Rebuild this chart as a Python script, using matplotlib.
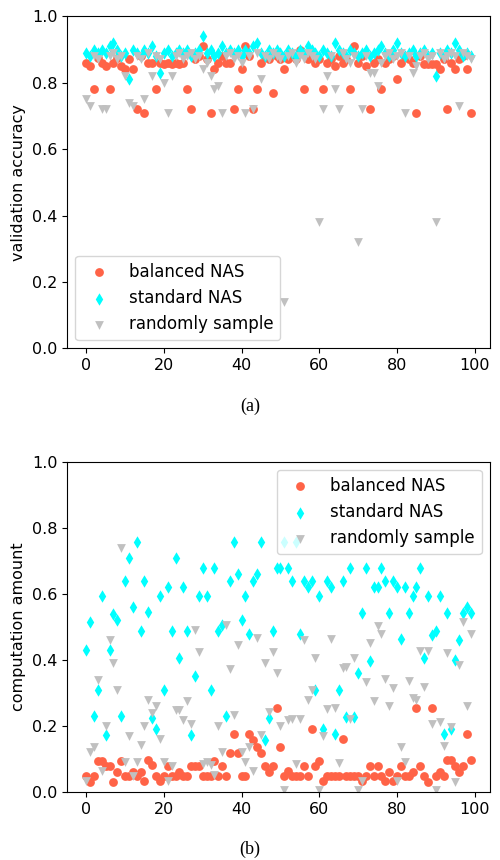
import numpy as np
import matplotlib
matplotlib.use('Agg')
import matplotlib.pyplot as plt

# model index on x axis
idx = np.arange(100)

# (a) validation accuracy
balanced_acc = [0.86, 0.85, 0.78, 0.875, 0.86, 0.85, 0.78, 0.86, 0.875, 0.85,
                0.84, 0.87, 0.84, 0.72, 0.88, 0.71, 0.86, 0.86, 0.78, 0.86,
                0.855, 0.86, 0.855, 0.86, 0.855, 0.86, 0.78, 0.72, 0.87, 0.88,
                0.91, 0.87, 0.71, 0.84, 0.86, 0.88, 0.86, 0.86, 0.72, 0.78,
                0.84, 0.91, 0.88, 0.72, 0.78, 0.86, 0.88, 0.87, 0.77, 0.88,
                0.87, 0.84, 0.87, 0.88, 0.87, 0.90, 0.78, 0.87, 0.88, 0.86,
                0.87, 0.78, 0.86, 0.87, 0.85, 0.88, 0.86, 0.87, 0.78, 0.91,
                0.86, 0.88, 0.85, 0.72, 0.86, 0.87, 0.78, 0.86, 0.87, 0.88,
                0.81, 0.86, 0.88, 0.87, 0.86, 0.71, 0.88, 0.855, 0.855, 0.855,
                0.855, 0.84, 0.87, 0.72, 0.86, 0.84, 0.87, 0.88, 0.84, 0.71]
standard_acc = [0.89, 0.88, 0.90, 0.89, 0.90, 0.89, 0.91, 0.92, 0.90, 0.88,
                0.89, 0.81, 0.90, 0.89, 0.88, 0.90, 0.89, 0.91, 0.88, 0.83,
                0.89, 0.90, 0.88, 0.89, 0.90, 0.89, 0.90, 0.88, 0.89, 0.90,
                0.94, 0.89, 0.90, 0.88, 0.89, 0.91, 0.89, 0.90, 0.89, 0.90,
                0.88, 0.90, 0.89, 0.91, 0.92, 0.89, 0.88, 0.90, 0.89, 0.90,
                0.89, 0.88, 0.90, 0.89, 0.88, 0.90, 0.89, 0.91, 0.90, 0.89,
                0.88, 0.90, 0.89, 0.88, 0.92, 0.90, 0.89, 0.88, 0.90, 0.89,
                0.88, 0.89, 0.90, 0.88, 0.89, 0.90, 0.91, 0.89, 0.88, 0.90,
                0.92, 0.89, 0.88, 0.89, 0.90, 0.88, 0.89, 0.90, 0.88, 0.89,
                0.82, 0.89, 0.88, 0.90, 0.89, 0.92, 0.90, 0.88, 0.89, 0.88]
random_acc = [0.75, 0.73, 0.88, 0.87, 0.72, 0.72, 0.88, 0.89, 0.87, 0.88,
              0.82, 0.74, 0.73, 0.88, 0.87, 0.75, 0.89, 0.82, 0.88, 0.87,
              0.80, 0.71, 0.82, 0.88, 0.89, 0.87, 0.88, 0.89, 0.87, 0.88,
              0.84, 0.86, 0.82, 0.78, 0.79, 0.71, 0.88, 0.89, 0.87, 0.88,
              0.86, 0.71, 0.88, 0.72, 0.89, 0.81, 0.88, 0.87, 0.89, 0.88,
              0.87, 0.14, 0.88, 0.89, 0.86, 0.88, 0.87, 0.89, 0.88, 0.87,
              0.38, 0.72, 0.82, 0.88, 0.78, 0.72, 0.89, 0.87, 0.86, 0.88,
              0.32, 0.72, 0.88, 0.83, 0.83, 0.79, 0.86, 0.88, 0.89, 0.87,
              0.88, 0.89, 0.71, 0.88, 0.83, 0.85, 0.88, 0.89, 0.87, 0.88,
              0.38, 0.89, 0.87, 0.88, 0.89, 0.88, 0.73, 0.89, 0.88, 0.87]

# (b) computation amount
balanced_comp = [0.05, 0.03, 0.05, 0.095, 0.095, 0.08, 0.08, 0.03, 0.06, 0.095,
                 0.05, 0.05, 0.06, 0.05, 0.06, 0.032, 0.097, 0.082, 0.05, 0.032,
                 0.05, 0.08, 0.05, 0.05, 0.06, 0.05, 0.05, 0.08, 0.08, 0.08,
                 0.05, 0.05, 0.05, 0.094, 0.05, 0.08, 0.05, 0.117, 0.175, 0.117,
                 0.05, 0.05, 0.175, 0.157, 0.135, 0.117, 0.08, 0.06, 0.08, 0.255,
                 0.135, 0.05, 0.065, 0.05, 0.05, 0.05, 0.08, 0.05, 0.19, 0.08,
                 0.095, 0.035, 0.05, 0.05, 0.05, 0.05, 0.16, 0.05, 0.05, 0.05,
                 0.05, 0.032, 0.05, 0.08, 0.05, 0.08, 0.05, 0.032, 0.062, 0.032,
                 0.05, 0.08, 0.05, 0.05, 0.06, 0.255, 0.08, 0.05, 0.03, 0.255,
                 0.05, 0.06, 0.05, 0.097, 0.097, 0.08, 0.06, 0.08, 0.175, 0.097]
standard_comp = [0.43, 0.515, 0.23, 0.31, 0.594, 0.174, 0.43, 0.54, 0.52, 0.23,
                 0.64, 0.71, 0.56, 0.757, 0.487, 0.64, 0.545, 0.225, 0.19, 0.594,
                 0.31, 0.62, 0.487, 0.71, 0.407, 0.62, 0.487, 0.174, 0.352, 0.594,
                 0.677, 0.594, 0.31, 0.677, 0.487, 0.505, 0.23, 0.64, 0.757, 0.66,
                 0.522, 0.594, 0.48, 0.64, 0.66, 0.757, 0.157, 0.225, 0.487, 0.677,
                 0.677, 0.757, 0.677, 0.64, 0.757, 0.48, 0.64, 0.62, 0.64, 0.31,
                 0.594, 0.19, 0.64, 0.62, 0.175, 0.31, 0.64, 0.227, 0.677, 0.227,
                 0.36, 0.542, 0.677, 0.397, 0.62, 0.62, 0.677, 0.64, 0.542, 0.64,
                 0.62, 0.462, 0.62, 0.542, 0.594, 0.622, 0.677, 0.407, 0.594, 0.477,
                 0.487, 0.594, 0.175, 0.542, 0.19, 0.40, 0.46, 0.542, 0.56, 0.542]
random_comp = [0.035, 0.12, 0.135, 0.34, 0.065, 0.2, 0.46, 0.39, 0.31, 0.74,
               0.09, 0.17, 0.05, 0.09, 0.142, 0.2, 0.28, 0.24, 0.26, 0.16,
               0.09, 0.035, 0.08, 0.25, 0.25, 0.217, 0.275, 0.205, 0.49, 0.425,
               0.085, 0.09, 0.082, 0.052, 0.2, 0.12, 0.507, 0.374, 0.232, 0.445,
               0.12, 0.09, 0.137, 0.065, 0.467, 0.172, 0.392, 0.242, 0.425, 0.362,
               0.2, 0.007, 0.217, 0.22, 0.085, 0.222, 0.46, 0.28, 0.31, 0.405,
               0.007, 0.17, 0.252, 0.462, 0.255, 0.087, 0.375, 0.38, 0.22, 0.405,
               0.007, 0.032, 0.334, 0.45, 0.277, 0.504, 0.48, 0.342, 0.26, 0.315,
               0.032, 0.135, 0.09, 0.335, 0.285, 0.28, 0.427, 0.317, 0.427, 0.205,
               0.007, 0.212, 0.139, 0.42, 0.197, 0.03, 0.385, 0.515, 0.26, 0.48]

labels = ['balanced NAS', 'standard NAS', 'randomly sample']
colors = ['tomato', 'cyan', 'silver']
markers = ['o', 'd', 'v']

fig = plt.figure(figsize=(5, 8.6), dpi=100)
ax1 = fig.add_axes([0.134, 0.595, 0.846, 0.386])
ax2 = fig.add_axes([0.134, 0.079, 0.846, 0.384])

for ax, series, ylabel, loc in [
        (ax1, [balanced_acc, standard_acc, random_acc], 'validation accuracy', 'lower left'),
        (ax2, [balanced_comp, standard_comp, random_comp], 'computation amount', 'upper right')]:
    for vals, lab, c, m in zip(series, labels, colors, markers):
        ax.scatter(idx, vals, s=40, c=c, marker=m, label=lab, linewidths=0)
    ax.set_ylim(0, 1.0)
    ax.set_yticks(np.arange(0, 1.01, 0.2))
    ax.set_xticks([0, 20, 40, 60, 80, 100])
    ax.tick_params(labelsize=11.5)
    ax.set_ylabel(ylabel, fontsize=11.5)
    ax.legend(loc=loc, fontsize=12, handletextpad=0.8)

fig.text(0.5, 0.528, '(a)', ha='center', va='center', fontsize=13, family='Liberation Serif')
fig.text(0.5, 0.012, '(b)', ha='center', va='center', fontsize=13, family='Liberation Serif')

plt.savefig('out.png', dpi=100)
